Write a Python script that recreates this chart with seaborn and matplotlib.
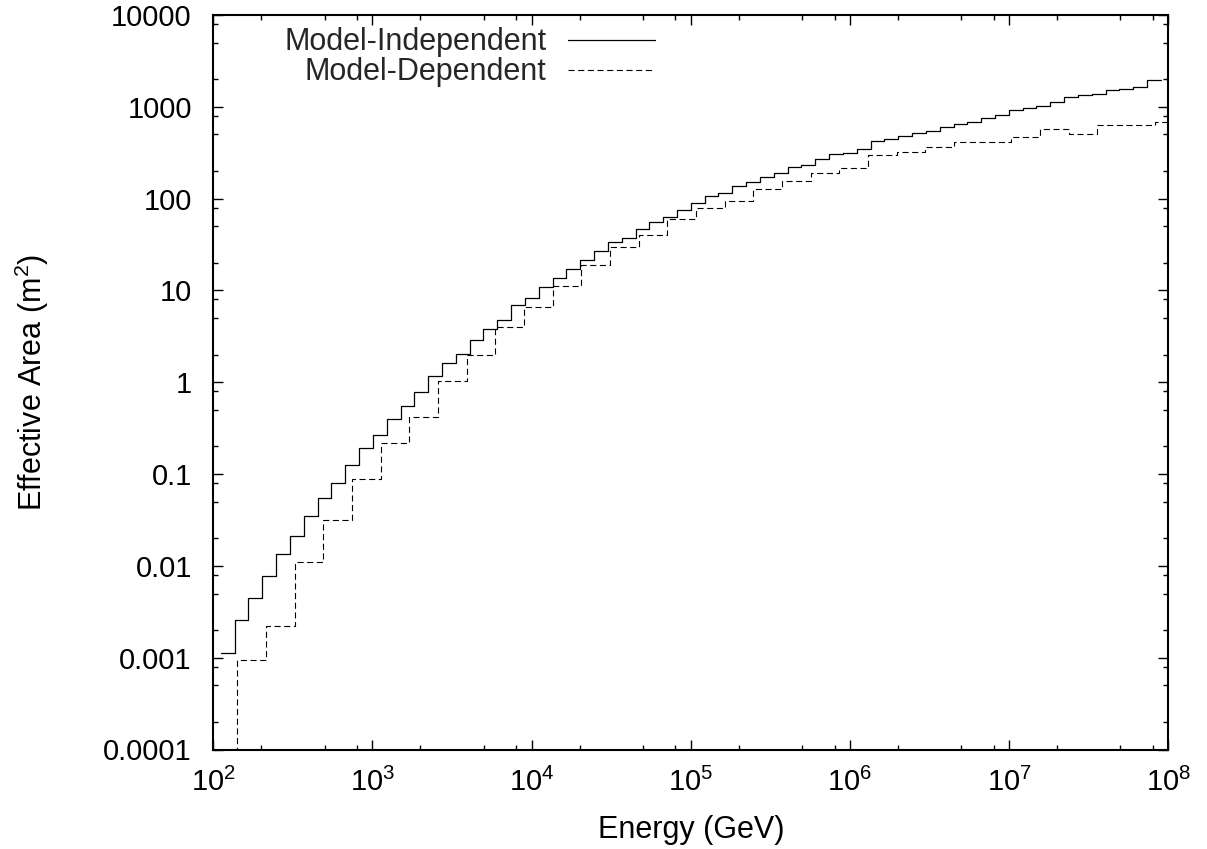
import numpy as np
import pandas as pd
import matplotlib
matplotlib.use("Agg")
import matplotlib.pyplot as plt
import seaborn as sns
from matplotlib.ticker import LogLocator, FixedLocator, FuncFormatter, NullFormatter

# ---- data ----
# Model-independent: bins of width 0.2 in ln(E), first bin starts at log10(E)=2.047
indep_log10_start = 2.047
indep_log10_width = 0.2 / np.log(10)
indep_area = [0.00112, 0.00256, 0.00446, 0.00776, 0.0135, 0.0210, 0.0346, 0.0548,
              0.0809, 0.125, 0.192, 0.268, 0.402, 0.548, 0.787, 1.17, 1.62, 2.04,
              2.85, 3.76, 4.80, 6.93, 8.34, 10.8, 13.5, 17.2, 21.4, 27.0, 33.6, 37.5,
              46.3, 56.1, 63.6, 74.8, 90.6, 107, 114, 138, 151, 173, 188, 219, 230,
              270, 303, 311, 348, 429, 451, 480, 525, 551, 600, 658, 687, 759, 819,
              929, 977, 1009, 1125, 1276, 1332, 1376, 1538, 1549, 1642, 1959]

# Model-dependent: coarser bins; the first bin is empty (below the axis range)
dep_log10_start = 1.9707
dep_log10_width = 0.1801
dep_area = [1e-6, 0.000935, 0.00222, 0.0109, 0.0313, 0.0885, 0.216, 0.419, 1.04,
            2.00, 3.98, 6.59, 11.2, 18.7, 29.6, 39.8, 59.6, 78.6, 94.5, 126, 155,
            191, 213, 299, 322, 362, 410, 410, 466, 580, 511, 641, 641, 675]

labels = ["Model-Independent", "Model-Dependent"]
y_ticks = [0.0001, 0.001, 0.01, 0.1, 1, 10, 100, 1000, 10000]


def step_frame(start, width, values, name):
    n = len(values)
    edges = 10 ** (start + width * np.arange(n + 1))
    vals = list(values) + [values[-1]]
    return pd.DataFrame({"energy": edges, "area": vals, "model": name})


df_i = step_frame(indep_log10_start, indep_log10_width, indep_area, labels[0])
df_d = step_frame(dep_log10_start, dep_log10_width, dep_area, labels[1])

# ---- style ----
sns.set_theme(style="ticks")
plt.rcParams["font.family"] = ["Liberation Sans", "DejaVu Sans"]
plt.rcParams["mathtext.fontset"] = "custom"
plt.rcParams["mathtext.rm"] = "Liberation Sans"
plt.rcParams["mathtext.it"] = "Liberation Sans:italic"
plt.rcParams["mathtext.bf"] = "Liberation Sans:bold"
FS = 21
FS_LAB = 22

fig = plt.figure(figsize=(12.07, 8.49), dpi=100)
ax = fig.add_axes([213.3 / 1207, 1 - 749.5 / 849, 955 / 1207, 734.5 / 849])
ax.set_xscale("log")
ax.set_yscale("log")

sns.lineplot(data=df_i, x="energy", y="area", ax=ax, color="black", lw=0.9,
             drawstyle="steps-post", estimator=None, sort=False, label=labels[0],
             legend=False)
sns.lineplot(data=df_d, x="energy", y="area", ax=ax, color="black", lw=0.8,
             drawstyle="steps-post", estimator=None, sort=False, label=labels[1],
             dashes=(5.5, 3.2), legend=False)

ax.set_xlim(1e2, 1e8)
ax.set_ylim(1e-4, 1e4)

ax.xaxis.set_major_locator(LogLocator(base=10, numticks=20))
ax.xaxis.set_minor_locator(LogLocator(base=10, subs=[2, 5, 8], numticks=20))
ax.xaxis.set_minor_formatter(NullFormatter())
ax.yaxis.set_major_locator(FixedLocator(y_ticks))
ax.yaxis.set_major_formatter(FuncFormatter(lambda v, p: "%g" % v))
ax.yaxis.set_minor_locator(LogLocator(base=10, subs=[2, 5, 8], numticks=20))
ax.yaxis.set_minor_formatter(NullFormatter())

ax.tick_params(which="both", direction="in", top=True, right=True, width=1.0,
               color="black", labelsize=FS, labelcolor="black")
ax.tick_params(which="major", length=7.5)
ax.tick_params(which="minor", length=3.8)
ax.tick_params(axis="y", which="major", pad=15.5)
ax.tick_params(axis="x", which="major", pad=13)

for s in ax.spines.values():
    s.set_linewidth(1.5)
    s.set_color("black")

ax.set_xlabel("Energy (GeV)", fontsize=FS_LAB, color="black")
ax.set_ylabel("Effective Area (m$^2$)", fontsize=FS_LAB, color="black")
ax.xaxis.set_label_coords(0.5, -0.089)
ax.yaxis.set_label_coords(-0.170, 0.5)

ax.legend(loc="upper right", bbox_to_anchor=((655 - 213.3) / 955, 0.983),
          frameon=False, markerfirst=False, fontsize=FS_LAB, handlelength=2.85,
          handletextpad=0.7, labelspacing=0.0, borderpad=0, borderaxespad=0)

fig.savefig("out.png", dpi=100, facecolor="white")
